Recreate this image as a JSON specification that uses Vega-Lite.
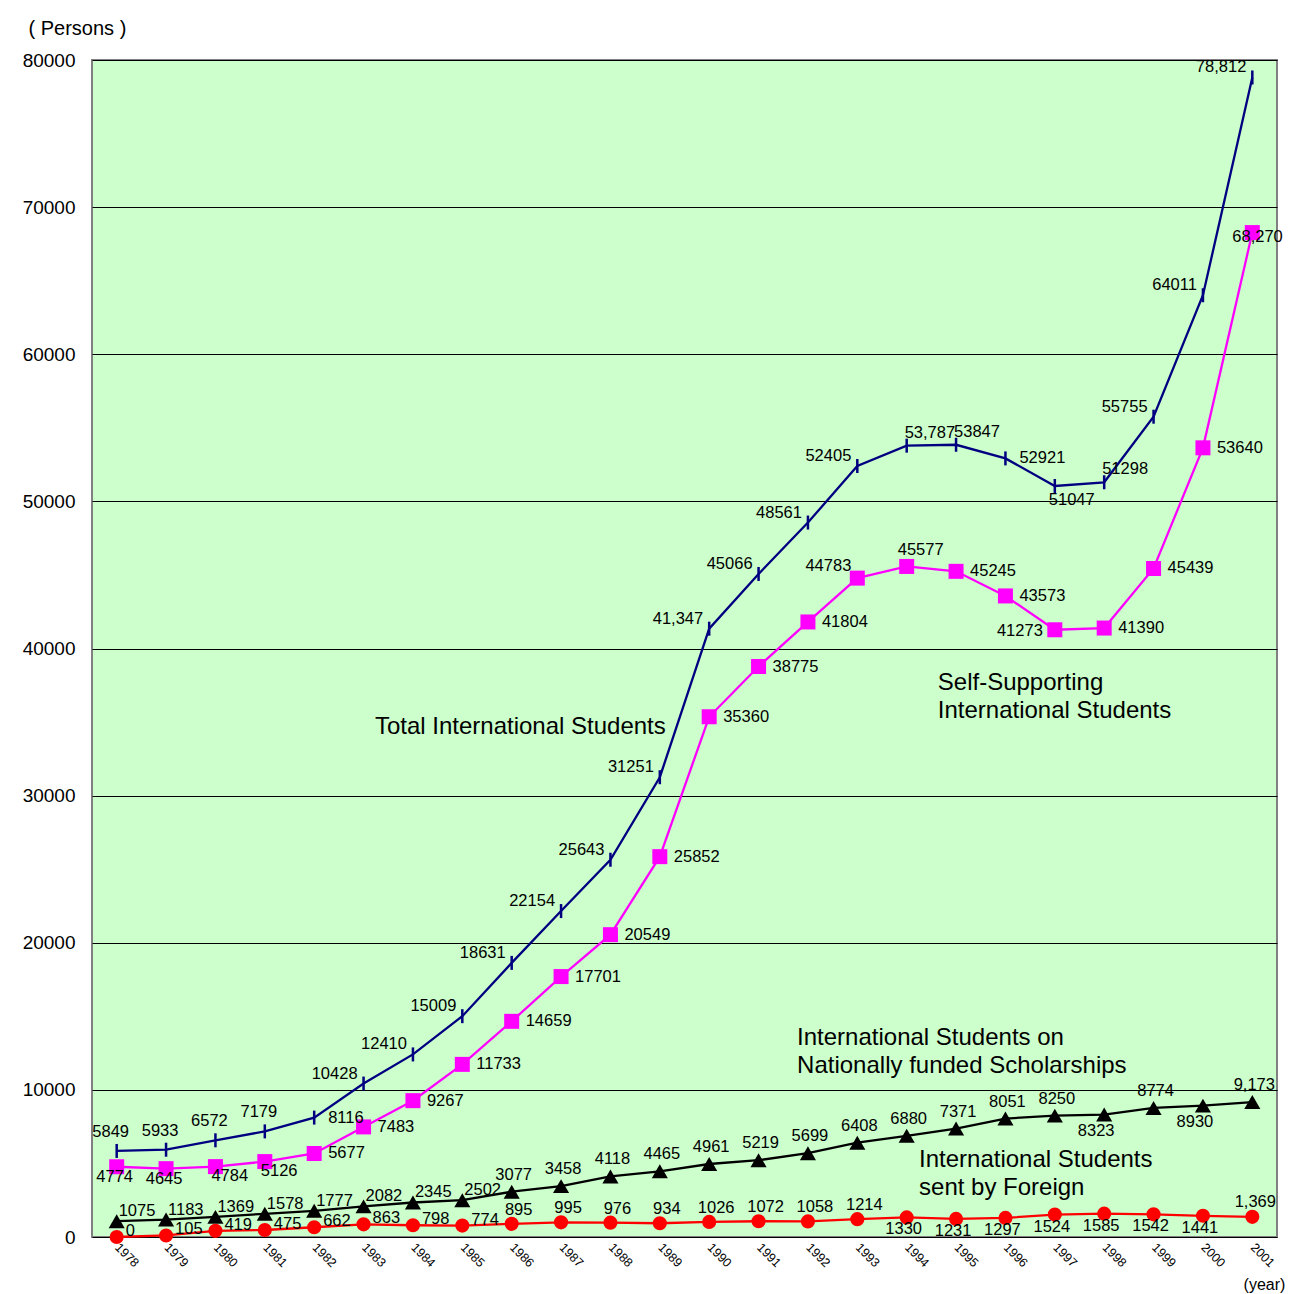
{
  "$schema": "https://vega.github.io/schema/vega-lite/v6.json",
  "width": 1185,
  "height": 1177,
  "autosize": {"type": "none"},
  "padding": {"left": 92, "top": 60, "right": 21, "bottom": 57},
  "background": "white",
  "config": {
    "view": {"fill": "#CCFFCC", "stroke": "#808080", "strokeWidth": 2},
    "font": "Liberation Sans",
    "text": {"font": "Liberation Sans", "fontSize": 16.5, "color": "#000000", "baseline": "middle"}
  },
  "datasets": {
    "main": [
      {"year": 1978, "series": "total", "value": 5849, "label": "5849"},
      {"year": 1979, "series": "total", "value": 5933, "label": "5933"},
      {"year": 1980, "series": "total", "value": 6572, "label": "6572"},
      {"year": 1981, "series": "total", "value": 7179, "label": "7179"},
      {"year": 1982, "series": "total", "value": 8116, "label": "8116"},
      {"year": 1983, "series": "total", "value": 10428, "label": "10428"},
      {"year": 1984, "series": "total", "value": 12410, "label": "12410"},
      {"year": 1985, "series": "total", "value": 15009, "label": "15009"},
      {"year": 1986, "series": "total", "value": 18631, "label": "18631"},
      {"year": 1987, "series": "total", "value": 22154, "label": "22154"},
      {"year": 1988, "series": "total", "value": 25643, "label": "25643"},
      {"year": 1989, "series": "total", "value": 31251, "label": "31251"},
      {"year": 1990, "series": "total", "value": 41347, "label": "41,347"},
      {"year": 1991, "series": "total", "value": 45066, "label": "45066"},
      {"year": 1992, "series": "total", "value": 48561, "label": "48561"},
      {"year": 1993, "series": "total", "value": 52405, "label": "52405"},
      {"year": 1994, "series": "total", "value": 53787, "label": "53,787"},
      {"year": 1995, "series": "total", "value": 53847, "label": "53847"},
      {"year": 1996, "series": "total", "value": 52921, "label": "52921"},
      {"year": 1997, "series": "total", "value": 51047, "label": "51047"},
      {"year": 1998, "series": "total", "value": 51298, "label": "51298"},
      {"year": 1999, "series": "total", "value": 55755, "label": "55755"},
      {"year": 2000, "series": "total", "value": 64011, "label": "64011"},
      {"year": 2001, "series": "total", "value": 78812, "label": "78,812"},
      {"year": 1978, "series": "self", "value": 4774, "label": "4774"},
      {"year": 1979, "series": "self", "value": 4645, "label": "4645"},
      {"year": 1980, "series": "self", "value": 4784, "label": "4784"},
      {"year": 1981, "series": "self", "value": 5126, "label": "5126"},
      {"year": 1982, "series": "self", "value": 5677, "label": "5677"},
      {"year": 1983, "series": "self", "value": 7483, "label": "7483"},
      {"year": 1984, "series": "self", "value": 9267, "label": "9267"},
      {"year": 1985, "series": "self", "value": 11733, "label": "11733"},
      {"year": 1986, "series": "self", "value": 14659, "label": "14659"},
      {"year": 1987, "series": "self", "value": 17701, "label": "17701"},
      {"year": 1988, "series": "self", "value": 20549, "label": "20549"},
      {"year": 1989, "series": "self", "value": 25852, "label": "25852"},
      {"year": 1990, "series": "self", "value": 35360, "label": "35360"},
      {"year": 1991, "series": "self", "value": 38775, "label": "38775"},
      {"year": 1992, "series": "self", "value": 41804, "label": "41804"},
      {"year": 1993, "series": "self", "value": 44783, "label": "44783"},
      {"year": 1994, "series": "self", "value": 45577, "label": "45577"},
      {"year": 1995, "series": "self", "value": 45245, "label": "45245"},
      {"year": 1996, "series": "self", "value": 43573, "label": "43573"},
      {"year": 1997, "series": "self", "value": 41273, "label": "41273"},
      {"year": 1998, "series": "self", "value": 41390, "label": "41390"},
      {"year": 1999, "series": "self", "value": 45439, "label": "45439"},
      {"year": 2000, "series": "self", "value": 53640, "label": "53640"},
      {"year": 2001, "series": "self", "value": 68270, "label": "68,270"},
      {"year": 1978, "series": "gov", "value": 1075, "label": "1075"},
      {"year": 1979, "series": "gov", "value": 1183, "label": "1183"},
      {"year": 1980, "series": "gov", "value": 1369, "label": "1369"},
      {"year": 1981, "series": "gov", "value": 1578, "label": "1578"},
      {"year": 1982, "series": "gov", "value": 1777, "label": "1777"},
      {"year": 1983, "series": "gov", "value": 2082, "label": "2082"},
      {"year": 1984, "series": "gov", "value": 2345, "label": "2345"},
      {"year": 1985, "series": "gov", "value": 2502, "label": "2502"},
      {"year": 1986, "series": "gov", "value": 3077, "label": "3077"},
      {"year": 1987, "series": "gov", "value": 3458, "label": "3458"},
      {"year": 1988, "series": "gov", "value": 4118, "label": "4118"},
      {"year": 1989, "series": "gov", "value": 4465, "label": "4465"},
      {"year": 1990, "series": "gov", "value": 4961, "label": "4961"},
      {"year": 1991, "series": "gov", "value": 5219, "label": "5219"},
      {"year": 1992, "series": "gov", "value": 5699, "label": "5699"},
      {"year": 1993, "series": "gov", "value": 6408, "label": "6408"},
      {"year": 1994, "series": "gov", "value": 6880, "label": "6880"},
      {"year": 1995, "series": "gov", "value": 7371, "label": "7371"},
      {"year": 1996, "series": "gov", "value": 8051, "label": "8051"},
      {"year": 1997, "series": "gov", "value": 8250, "label": "8250"},
      {"year": 1998, "series": "gov", "value": 8323, "label": "8323"},
      {"year": 1999, "series": "gov", "value": 8774, "label": "8774"},
      {"year": 2000, "series": "gov", "value": 8930, "label": "8930"},
      {"year": 2001, "series": "gov", "value": 9173, "label": "9,173"},
      {"year": 1978, "series": "foreign", "value": 0, "label": "0"},
      {"year": 1979, "series": "foreign", "value": 105, "label": "105"},
      {"year": 1980, "series": "foreign", "value": 419, "label": "419"},
      {"year": 1981, "series": "foreign", "value": 475, "label": "475"},
      {"year": 1982, "series": "foreign", "value": 662, "label": "662"},
      {"year": 1983, "series": "foreign", "value": 863, "label": "863"},
      {"year": 1984, "series": "foreign", "value": 798, "label": "798"},
      {"year": 1985, "series": "foreign", "value": 774, "label": "774"},
      {"year": 1986, "series": "foreign", "value": 895, "label": "895"},
      {"year": 1987, "series": "foreign", "value": 995, "label": "995"},
      {"year": 1988, "series": "foreign", "value": 976, "label": "976"},
      {"year": 1989, "series": "foreign", "value": 934, "label": "934"},
      {"year": 1990, "series": "foreign", "value": 1026, "label": "1026"},
      {"year": 1991, "series": "foreign", "value": 1072, "label": "1072"},
      {"year": 1992, "series": "foreign", "value": 1058, "label": "1058"},
      {"year": 1993, "series": "foreign", "value": 1214, "label": "1214"},
      {"year": 1994, "series": "foreign", "value": 1330, "label": "1330"},
      {"year": 1995, "series": "foreign", "value": 1231, "label": "1231"},
      {"year": 1996, "series": "foreign", "value": 1297, "label": "1297"},
      {"year": 1997, "series": "foreign", "value": 1524, "label": "1524"},
      {"year": 1998, "series": "foreign", "value": 1585, "label": "1585"},
      {"year": 1999, "series": "foreign", "value": 1542, "label": "1542"},
      {"year": 2000, "series": "foreign", "value": 1441, "label": "1441"},
      {"year": 2001, "series": "foreign", "value": 1369, "label": "1,369"}
    ],
    "notes": [
      {"year": 1983.23, "value": 35450, "label": "Total International Students"},
      {"year": 1994.63, "value": 38500, "label": "Self-Supporting\nInternational Students"},
      {"year": 1991.78, "value": 14350, "label": "International Students on\nNationally funded Scholarships"},
      {"year": 1994.25, "value": 6050, "label": "International Students\nsent by Foreign"}
    ]
  },
  "data": {"name": "main"},
  "encoding": {
    "x": {
      "field": "year", "type": "quantitative",
      "scale": {"domain": [1977.5, 2001.5], "nice": false, "zero": false},
      "axis": {
        "values": [1978,1979,1980,1981,1982,1983,1984,1985,1986,1987,1988,1989,1990,1991,1992,1993,1994,1995,1996,1997,1998,1999,2000,2001],
        "format": "d", "labelAngle": 45, "labelAlign": "left", "labelBaseline": "middle",
        "labelFontSize": 12.5, "labelPadding": 8, "labelColor": "#000000", "labelFont": "Liberation Sans",
        "ticks": false, "domain": false, "grid": false,
        "title": "(year)", "titleFontSize": 16, "titleFontWeight": "normal", "titleFont": "Liberation Sans",
        "titleX": 1172, "titleY": 47, "titleAlign": "center", "titleBaseline": "middle", "titleColor": "#000000"
      }
    },
    "y": {
      "field": "value", "type": "quantitative",
      "scale": {"domain": [0, 80000], "nice": false},
      "axis": {
        "values": [0,10000,20000,30000,40000,50000,60000,70000,80000],
        "format": "d", "labelFontSize": 19, "labelPadding": 17, "labelColor": "#000000", "labelFont": "Liberation Sans",
        "ticks": false, "domain": false, "grid": true, "gridColor": "#000000", "gridWidth": 1, "gridOpacity": 1,
        "title": "( Persons )", "titleAngle": 0, "titleFontSize": 20, "titleFontWeight": "normal", "titleFont": "Liberation Sans",
        "titleX": -64, "titleY": -32, "titleAlign": "left", "titleBaseline": "middle", "titleColor": "#000000"
      }
    }
  },
  "layer": [
    {
      "mark": {"type": "line", "strokeWidth": 2.3},
      "encoding": {
        "color": {"field": "series", "type": "nominal", "legend": null,
          "scale": {"domain": ["total", "self", "gov", "foreign"], "range": ["#000080", "#FF00FF", "#000000", "#FF0000"]}}
      }
    },
    {
      "transform": [{"filter": "datum.series === 'total'"}],
      "mark": {"type": "point", "shape": "M0,-1L0,1", "filled": false, "stroke": "#000080", "strokeWidth": 2.5, "size": 196, "opacity": 1},
      "encoding": {}
    },
    {
      "transform": [{"filter": "datum.series === 'self'"}],
      "mark": {"type": "point", "shape": "square", "filled": true, "color": "#FF00FF", "size": 225, "opacity": 1},
      "encoding": {}
    },
    {
      "transform": [{"filter": "datum.series === 'gov'"}],
      "mark": {"type": "point", "shape": "triangle-up", "filled": true, "color": "#000000", "size": 260, "opacity": 1},
      "encoding": {}
    },
    {
      "transform": [{"filter": "datum.series === 'foreign'"}],
      "mark": {"type": "point", "shape": "circle", "filled": true, "color": "#FF0000", "size": 200, "opacity": 1},
      "encoding": {}
    },
    {
      "transform": [{"filter": "datum.series === 'total' && indexof([1978,1979,1980,1981], datum.year) >= 0"}],
      "mark": {"type": "text", "align": "center", "dx": -6, "dy": -19},
      "encoding": {"text": {"field": "label"}}
    },
    {
      "transform": [{"filter": "datum.series === 'total' && indexof([1982,1996], datum.year) >= 0"}],
      "mark": {"type": "text", "align": "left", "dx": 14, "dy": 0},
      "encoding": {"text": {"field": "label"}}
    },
    {
      "transform": [{"filter": "datum.series === 'total' && indexof([1994,1995,1998], datum.year) >= 0"}],
      "mark": {"type": "text", "align": "left", "dx": -2, "dy": -13},
      "encoding": {"text": {"field": "label"}}
    },
    {
      "transform": [{"filter": "datum.series === 'total' && datum.year === 1997"}],
      "mark": {"type": "text", "align": "left", "dx": -6, "dy": 14},
      "encoding": {"text": {"field": "label"}}
    },
    {
      "transform": [{"filter": "datum.series === 'total' && indexof([1978,1979,1980,1981,1982,1994,1995,1996,1997,1998], datum.year) < 0"}],
      "mark": {"type": "text", "align": "right", "dx": -6, "dy": -10},
      "encoding": {"text": {"field": "label"}}
    },
    {
      "transform": [{"filter": "datum.series === 'self' && indexof([1978,1979], datum.year) >= 0"}],
      "mark": {"type": "text", "align": "center", "dx": -2, "dy": 10},
      "encoding": {"text": {"field": "label"}}
    },
    {
      "transform": [{"filter": "datum.series === 'self' && indexof([1980,1981], datum.year) >= 0"}],
      "mark": {"type": "text", "align": "left", "dx": -4, "dy": 9},
      "encoding": {"text": {"field": "label"}}
    },
    {
      "transform": [{"filter": "datum.series === 'self' && datum.year === 1993"}],
      "mark": {"type": "text", "align": "right", "dx": -6, "dy": -12},
      "encoding": {"text": {"field": "label"}}
    },
    {
      "transform": [{"filter": "datum.series === 'self' && datum.year === 1994"}],
      "mark": {"type": "text", "align": "center", "dx": 14, "dy": -16},
      "encoding": {"text": {"field": "label"}}
    },
    {
      "transform": [{"filter": "datum.series === 'self' && datum.year === 1997"}],
      "mark": {"type": "text", "align": "right", "dx": -12, "dy": 1},
      "encoding": {"text": {"field": "label"}}
    },
    {
      "transform": [{"filter": "datum.series === 'self' && datum.year === 2001"}],
      "mark": {"type": "text", "align": "left", "dx": -20, "dy": 4},
      "encoding": {"text": {"field": "label"}}
    },
    {
      "transform": [{"filter": "datum.series === 'self' && indexof([1978,1979,1980,1981,1993,1994,1997,2001], datum.year) < 0"}],
      "mark": {"type": "text", "align": "left", "dx": 14, "dy": 0},
      "encoding": {"text": {"field": "label"}}
    },
    {
      "transform": [{"filter": "datum.series === 'gov' && datum.year <= 1985"}],
      "mark": {"type": "text", "align": "left", "dx": 2, "dy": -10},
      "encoding": {"text": {"field": "label"}}
    },
    {
      "transform": [{"filter": "datum.series === 'gov' && indexof([1998,2000], datum.year) >= 0"}],
      "mark": {"type": "text", "align": "center", "dx": -8, "dy": 16},
      "encoding": {"text": {"field": "label"}}
    },
    {
      "transform": [{"filter": "datum.series === 'gov' && datum.year > 1985 && indexof([1998,2000], datum.year) < 0"}],
      "mark": {"type": "text", "align": "center", "dx": 2, "dy": -17},
      "encoding": {"text": {"field": "label"}}
    },
    {
      "transform": [{"filter": "datum.series === 'foreign' && datum.year <= 1985"}],
      "mark": {"type": "text", "align": "left", "dx": 9, "dy": -6},
      "encoding": {"text": {"field": "label"}}
    },
    {
      "transform": [{"filter": "datum.series === 'foreign' && datum.year >= 1986 && datum.year <= 1993"}],
      "mark": {"type": "text", "align": "center", "dx": 7, "dy": -14},
      "encoding": {"text": {"field": "label"}}
    },
    {
      "transform": [{"filter": "datum.series === 'foreign' && datum.year >= 1994 && datum.year <= 2000"}],
      "mark": {"type": "text", "align": "center", "dx": -3, "dy": 12},
      "encoding": {"text": {"field": "label"}}
    },
    {
      "transform": [{"filter": "datum.series === 'foreign' && datum.year === 2001"}],
      "mark": {"type": "text", "align": "center", "dx": 3, "dy": -15},
      "encoding": {"text": {"field": "label"}}
    },
    {
      "data": {"name": "notes"},
      "mark": {"type": "text", "align": "left", "baseline": "top", "fontSize": 24, "lineBreak": "\n", "lineHeight": 28.5, "color": "#000000"},
      "encoding": {"text": {"field": "label"}}
    }
  ]
}
